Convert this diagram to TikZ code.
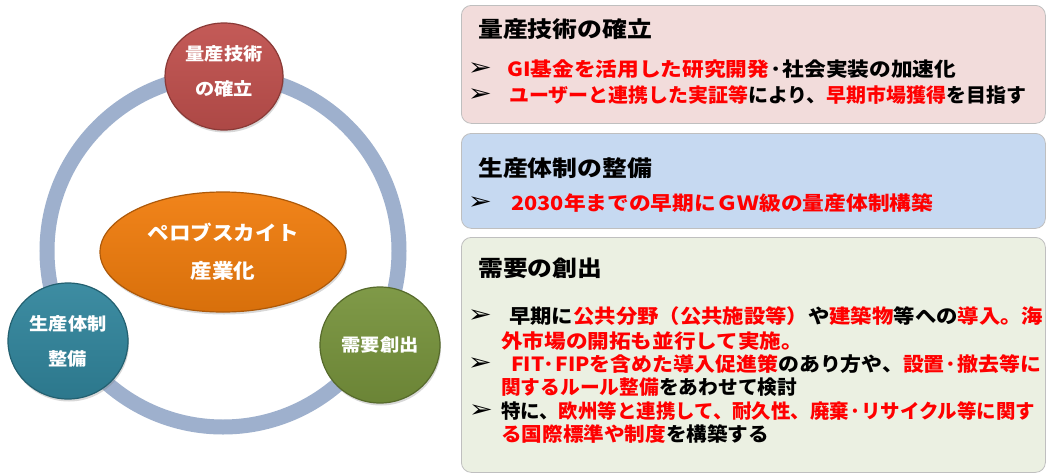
\documentclass[tikz,border=0pt]{standalone}
\usepackage{fontspec}
\usepackage{graphicx}
\setmainfont{Noto Sans CJK JP}
\newfontfamily\dv{DejaVu Sans}
\usetikzlibrary{shapes.geometric,shadows}
\definecolor{ringc}{HTML}{9EB0CD}
\definecolor{redc}{HTML}{C0504D}
\definecolor{tealc}{HTML}{31859C}
\definecolor{greenc}{HTML}{77933C}
\definecolor{orangec}{HTML}{F07C0C}
\definecolor{pac}{HTML}{F2DCDB}
\definecolor{pbc}{HTML}{C6D9F1}
\definecolor{pcc}{HTML}{EBF0E2}
\definecolor{pborder}{HTML}{BFBFBF}
\definecolor{tred}{HTML}{FF0000}
\newcommand\R[1]{\textcolor{tred}{#1}}
\newcommand\fitw[2]{\resizebox{#1pt}{\height}{#2}}
\newcommand\hsx[2]{\scalebox{#1}[1]{#2}}
\newcommand\bl{\hsx{1.2}{➢}}
\begin{document}
\begin{tikzpicture}[x=1pt,y=-1pt,
  panel/.style={draw=pborder, line width=0.8pt, rounded corners=10pt, anchor=north west, inner sep=0pt},
  ttl/.style={anchor=west, inner sep=0pt, font=\fontsize{22}{24}\selectfont\bfseries, text=black},
  ln/.style={anchor=west, inner sep=0pt, font=\fontsize{19.5}{22}\selectfont\bfseries, text=black},
  blt/.style={inner sep=0pt, font=\dv\fontsize{24}{24}\selectfont, text=black},
  bub/.style={ellipse, inner sep=0pt, draw=#1!72!black, line width=1.2pt, top color=#1!94!white, bottom color=#1!90!black,
     drop shadow={shadow xshift=1pt, shadow yshift=-2.5pt, opacity=0.3}},
  btxt/.style={align=center, text=white, font=\fontsize{17.5}{35}\selectfont\bfseries, inner sep=0pt}]
\fill[white] (0,0) rectangle (1047,474);
\useasboundingbox (0,0) rectangle (1047,474);

% ring
\draw[ringc, line width=15pt] (223,251) circle[radius=176];

% circles
\node[bub=redc, minimum width=118pt, minimum height=107pt] (tech) at (224,76.5) {};
\node[btxt] (techt) at (224,71) {\hsx{1.1}{量産技術}\\\hsx{1.1}{の確立}};
\node[bub=tealc, btxt, minimum width=120pt, minimum height=116pt] (prod) at (68,341) {\hsx{1.1}{生産体制}\\\hsx{1.1}{整備}};
\node[bub=greenc, btxt, minimum width=120pt, minimum height=116pt] (dem) at (380,345) {\hsx{1.1}{需要創出}};
\node[bub=orangec, btxt, font=\fontsize{20}{38}\selectfont\bfseries, minimum width=246pt, minimum height=120pt] (core) at (223,252) {\hsx{1.08}{ペロブスカイト}\\\hsx{1.08}{産業化}};

% panels
\node[panel, fill=pac, minimum width=584pt, minimum height=118pt] (pa) at (461,5) {};
\node[panel, fill=pbc, minimum width=584pt, minimum height=95pt] (pb) at (461,133) {};
\node[panel, fill=pcc, minimum width=584pt, minimum height=235pt] (pc) at (461,237) {};

% panel 1
\node[ttl] (pat) at (478,29) {\fitw{174}{量産技術の確立}};
\node[blt] (pab1) at (480,69) {\bl};
\node[ln] (pal1) at (507,69) {\fitw{449}{\R{GI基金を活用した研究開発}·社会実装の加速化}};
\node[blt] (pab2) at (480,95) {\bl};
\node[ln] (pal2) at (509,95) {\fitw{517}{\R{ユーザーと連携した実証等}により、\R{早期市場獲得}を目指す}};

% panel 2
\node[ttl] (pbt) at (478,168) {\fitw{174}{生産体制の整備}};
\node[blt] (pbb1) at (480,203) {\bl};
\node[ln] (pbl1) at (511,203) {\fitw{422}{\R{2030年までの早期にＧＷ級の量産体制構築}}};

% panel 3
\node[ttl] (pct) at (478,268) {\fitw{124}{需要の創出}};
\node[blt] (pcb1) at (480,316) {\bl};
\node[ln] (pcl1) at (509,316) {\fitw{534}{早期に\R{公共分野（公共施設等）}や\R{建築物}等への\R{導入。海}}};
\node[ln] (pcl2) at (501,341) {\fitw{302}{\R{外市場の開拓も並行して実施。}}};
\node[blt] (pcb2) at (480,364) {\bl};
\node[ln] (pcl3) at (511,364) {\fitw{530}{\R{FIT·FIPを含めた導入促進策}のあり方や、\R{設置·撤去等に}}};
\node[ln] (pcl4) at (501,387) {\fitw{296}{\R{関するルール整備}をあわせて検討}};
\node[blt] (pcb3) at (481,411) {\bl};
\node[ln] (pcl5) at (501,411) {\fitw{534}{特に、\R{欧州等と連携して、耐久性、廃棄·リサイクル等に関す}}};
\node[ln] (pcl6) at (501,434) {\fitw{268}{\R{る国際標準や制度}を構築する}};
\end{tikzpicture}
\end{document}
